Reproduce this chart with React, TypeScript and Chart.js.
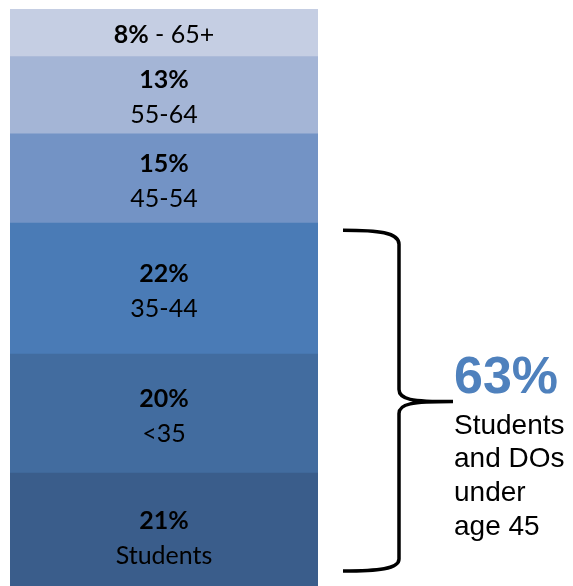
import React, { useEffect, useRef } from "react";
import { Chart, registerables } from "chart.js";

Chart.register(...registerables);

// bottom to top
const categories = ["Students", "<35", "35-44", "45-54", "55-64", "65+"];
const values = [21, 20, 22, 15, 13, 8];
const colors = ["#3A5D8B", "#426C9F", "#4A7BB6", "#7393C5", "#A4B5D6", "#C5CEE3"];
const inlineLabel = [false, false, false, false, false, true];
const summaryValue = "63%";
const summaryLines = ["Students", "and DOs", "under", "age 45"];
const bracedTotal = 63;

const SEG_FONT = "Lato, 'Open Sans', sans-serif";
const ARIAL = "'Liberation Sans', Arial, sans-serif";

const labelPlugin = {
  id: "segLabels",
  afterDatasetsDraw(chart: any) {
    const ctx = chart.ctx;
    ctx.save();
    ctx.textAlign = "center";
    ctx.textBaseline = "middle";
    ctx.fillStyle = "#000";
    chart.data.datasets.forEach((ds: any, i: number) => {
      const el = chart.getDatasetMeta(i).data[0];
      if (!el) return;
      const cx = el.x;
      const cy = (el.y + el.base) / 2;
      const pct = values[i] + "%";
      const name = categories[i];
      if (inlineLabel[i]) {
        ctx.font = `bold 25px ${SEG_FONT}`;
        const w1 = ctx.measureText(pct).width;
        ctx.font = `25px ${SEG_FONT}`;
        const rest = " - " + name;
        const w2 = ctx.measureText(rest).width;
        const start = cx - (w1 + w2) / 2;
        ctx.textAlign = "left";
        ctx.font = `bold 25px ${SEG_FONT}`;
        ctx.fillText(pct, start, cy + 2);
        ctx.font = `25px ${SEG_FONT}`;
        ctx.fillText(rest, start + w1, cy + 2);
        ctx.textAlign = "center";
      } else {
        ctx.font = `bold 25px ${SEG_FONT}`;
        ctx.fillText(pct, cx, cy - 15);
        ctx.font = `25px ${SEG_FONT}`;
        ctx.fillText(name, cx, cy + 20);
      }
    });
    ctx.restore();
  },
  afterDraw(chart: any) {
    const ctx = chart.ctx;
    const y = chart.scales.y;
    const top = y.getPixelForValue(bracedTotal) + 7;
    const bottom = y.getPixelForValue(0) - 27;
    const mid = (top + bottom) / 2 + 1;
    const xs = chart.chartArea.right + 25;
    const xv = chart.chartArea.right + 81;
    const xt = chart.chartArea.right + 135;
    ctx.save();
    ctx.strokeStyle = "#000";
    ctx.lineWidth = 3.5;
    ctx.lineCap = "butt";
    ctx.beginPath();
    ctx.moveTo(xs, top);
    ctx.bezierCurveTo(xs + 35, top, xv, top + 2, xv, top + 14);
    ctx.lineTo(xv, mid - 12);
    ctx.bezierCurveTo(xv, mid - 2, xv + 12, mid, xt, mid);
    ctx.bezierCurveTo(xv + 12, mid, xv, mid + 2, xv, mid + 12);
    ctx.lineTo(xv, bottom - 12);
    ctx.bezierCurveTo(xv, bottom - 2, xs + 35, bottom, xs, bottom);
    ctx.stroke();

    ctx.textAlign = "left";
    ctx.textBaseline = "alphabetic";
    ctx.fillStyle = "#4F81BD";
    ctx.font = `bold 52px ${ARIAL}`;
    ctx.fillText(summaryValue, xt + 1, mid - 9);
    ctx.fillStyle = "#000";
    ctx.font = `28px ${ARIAL}`;
    summaryLines.forEach((t, k) => {
      ctx.fillText(t, xt + 1, mid + 32 + k * 33.7);
    });
    ctx.restore();
  },
};

export default function App() {
  const ref = useRef<HTMLCanvasElement | null>(null);
  useEffect(() => {
    if (!ref.current) return;
    const chart = new Chart(ref.current, {
      type: "bar",
      data: {
        labels: [""],
        datasets: categories.map((c, i) => ({
          label: c,
          data: [values[i]],
          backgroundColor: colors[i],
          borderWidth: 0,
          stack: "s",
          barPercentage: 1,
          categoryPercentage: 1,
        })),
      },
      options: {
        responsive: false,
        animation: false,
        devicePixelRatio: 1,
        layout: { padding: { left: 10, right: 255, top: 9, bottom: 2 } },
        plugins: { legend: { display: false }, tooltip: { enabled: false } },
        scales: {
          x: { display: false, stacked: true, grid: { display: false } },
          y: { display: false, stacked: true, min: 0, max: 99, grid: { display: false } },
        },
      },
      plugins: [labelPlugin],
    });
    return () => chart.destroy();
  }, []);
  return (
    <div
      style={{
        position: "absolute",
        left: 0,
        top: 0,
        width: 573,
        height: 586,
        overflow: "hidden",
        background: "#fff",
      }}
    >
      <canvas ref={ref} width={573} height={600} style={{ display: "block", width: 573, height: 600 }} />
    </div>
  );
}
